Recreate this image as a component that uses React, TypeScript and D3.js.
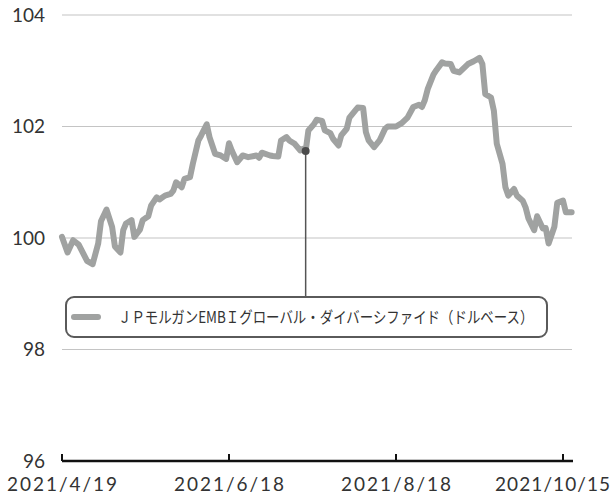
import React from "react";
import * as d3 from "d3";

const seriesName = "ＪＰモルガンEMBＩグローバル・ダイバーシファイド（ドルベース）";

const dates = [
  "2021-04-19", "2021-04-21", "2021-04-23", "2021-04-25", "2021-04-28", "2021-04-30", "2021-05-02", "2021-05-03",
  "2021-05-05", "2021-05-07", "2021-05-08", "2021-05-10", "2021-05-11", "2021-05-12", "2021-05-14", "2021-05-15",
  "2021-05-17", "2021-05-18", "2021-05-20", "2021-05-21", "2021-05-23", "2021-05-24", "2021-05-26", "2021-05-28",
  "2021-05-29", "2021-05-30", "2021-06-01", "2021-06-02", "2021-06-04", "2021-06-05", "2021-06-07", "2021-06-08",
  "2021-06-10", "2021-06-11", "2021-06-13", "2021-06-15", "2021-06-17", "2021-06-18",
  "2021-06-19", "2021-06-21", "2021-06-23", "2021-06-25", "2021-06-28", "2021-06-29", "2021-06-30", "2021-07-03",
  "2021-07-04", "2021-07-06", "2021-07-07", "2021-07-09", "2021-07-10", "2021-07-12", "2021-07-14", "2021-07-15",
  "2021-07-16", "2021-07-17", "2021-07-19", "2021-07-20", "2021-07-22", "2021-07-23", "2021-07-25", "2021-07-26",
  "2021-07-28", "2021-07-29", "2021-07-31", "2021-08-01", "2021-08-03", "2021-08-04", "2021-08-06", "2021-08-07",
  "2021-08-08", "2021-08-10", "2021-08-12", "2021-08-14", "2021-08-15", "2021-08-18",
  "2021-08-20", "2021-08-22", "2021-08-24", "2021-08-26", "2021-08-27", "2021-08-28", "2021-08-29", "2021-08-31",
  "2021-09-01", "2021-09-03", "2021-09-04", "2021-09-06", "2021-09-07", "2021-09-09", "2021-09-11", "2021-09-12",
  "2021-09-14", "2021-09-16", "2021-09-17", "2021-09-18", "2021-09-20", "2021-09-21", "2021-09-22", "2021-09-24",
  "2021-09-25", "2021-09-26", "2021-09-28", "2021-09-29", "2021-10-01", "2021-10-02", "2021-10-03", "2021-10-05",
  "2021-10-06", "2021-10-08", "2021-10-09", "2021-10-10", "2021-10-12", "2021-10-13", "2021-10-15", "2021-10-16",
  "2021-10-18",
];

const values = [
  100.02, 99.74, 99.96, 99.88, 99.59, 99.53, 99.9, 100.3,
  100.51, 100.2, 99.85, 99.74, 100.14, 100.26, 100.32, 100.02,
  100.15, 100.32, 100.39, 100.58, 100.73, 100.69, 100.76, 100.79,
  100.85, 101.0, 100.91, 101.06, 101.09, 101.33, 101.75, 101.84,
  102.04, 101.81, 101.51, 101.48, 101.42, 101.7,
  101.57, 101.36, 101.48, 101.45, 101.48, 101.44, 101.53, 101.48,
  101.47, 101.46, 101.75, 101.81, 101.75, 101.69, 101.57, 101.6,
  101.56, 101.93, 102.04, 102.12, 102.1, 101.93, 101.88, 101.78,
  101.66, 101.84, 101.96, 102.16, 102.28, 102.34, 102.33, 101.9,
  101.75, 101.63, 101.75, 101.96, 102.0, 102.0,
  102.06, 102.16, 102.35, 102.39, 102.35, 102.47, 102.67, 102.93,
  103.01, 103.15, 103.13, 103.12, 103.0, 102.97, 103.07, 103.12,
  103.17, 103.23, 103.12, 102.58, 102.52, 102.28, 101.69, 101.33,
  100.91, 100.76, 100.88, 100.76, 100.67, 100.55, 100.35, 100.14,
  100.39, 100.17, 100.18, 99.9, 100.2, 100.63, 100.67, 100.46,
  100.46,
];

// point that the legend callout hangs from
const markerDate = "2021-07-16";

const tickDates = ["2021-04-19", "2021-06-18", "2021-08-18", "2021-10-15"];
const tickLabels = ["2021/4/19", "2021/6/18", "2021/8/18", "2021/10/15"];
const yTicks = [96, 98, 100, 102, 104];

const W = 611;
const H = 497;
const margin = { top: 15, right: 39, bottom: 36, left: 62 };
const tickStep = 167;

const font = "'Noto Sans CJK JP', 'Noto Sans', sans-serif";
const numFont = "Lato, 'Noto Sans', sans-serif";

export default function App() {
  const parse = d3.timeParse("%Y-%m-%d");
  const data = dates.map((d, i) => ({ date: parse(d) as Date, value: values[i] }));

  const x = d3
    .scaleTime()
    .domain(tickDates.map((d) => parse(d) as Date))
    .range(tickDates.map((_, i) => margin.left + i * tickStep));

  const y = d3
    .scaleLinear()
    .domain([96, 104])
    .range([H - margin.bottom, margin.top]);

  const line = d3
    .line<{ date: Date; value: number }>()
    .x((d) => x(d.date))
    .y((d) => y(d.value));

  const marker = data[dates.indexOf(markerDate)];
  const mx = x(marker.date);
  const my = y(marker.value);

  const xEnd = W - margin.right;
  const axisY = y(96);

  const legend = { x: 66, y: 297, w: 481, h: 40 };

  return (
    <svg
      width={W}
      height={H}
      style={{ position: "absolute", left: 0, top: 0, background: "#fff" }}
      fontFamily={font}
    >
      {yTicks.map((t) => (
        <g key={t}>
          {t !== 96 && (
            <line x1={margin.left} x2={xEnd} y1={y(t)} y2={y(t)} stroke="#c4c4c4" strokeWidth={1.2} />
          )}
          <text
            x={45}
            y={y(t)}
            dy="0.36em"
            textAnchor="end"
            fontSize={19}
            fontFamily={numFont}
            fill="#333"
          >
            {t}
          </text>
        </g>
      ))}

      <path
        d={line(data) ?? ""}
        fill="none"
        stroke="#a0a2a1"
        strokeWidth={6}
        strokeLinejoin="round"
        strokeLinecap="round"
      />

      <line x1={mx} x2={mx} y1={my} y2={legend.y} stroke="#555" strokeWidth={1.5} />
      <circle cx={mx} cy={my} r={4} fill="#4a4a4a" />

      <rect
        x={legend.x}
        y={legend.y}
        width={legend.w}
        height={legend.h}
        rx={8}
        fill="#fff"
        stroke="#5a5a5a"
        strokeWidth={2}
      />
      <line
        x1={legend.x + 8}
        x2={legend.x + 32}
        y1={legend.y + legend.h / 2}
        y2={legend.y + legend.h / 2}
        stroke="#a0a2a1"
        strokeWidth={6}
        strokeLinecap="round"
      />
      <text
        transform={`translate(${legend.x + 52},${legend.y + legend.h / 2}) scale(0.84,1)`}
        dy="0.36em"
        fontSize={16}
        fill="#333"
      >
        {seriesName}
      </text>

      <line x1={margin.left} x2={xEnd + 1} y1={axisY} y2={axisY} stroke="#111" strokeWidth={2.5} />
      {tickDates.map((d, i) => {
        const tx = x(parse(d) as Date);
        const last = i === tickDates.length - 1;
        return (
          <g key={d}>
            <line x1={tx} x2={tx} y1={axisY} y2={axisY - 7} stroke="#111" strokeWidth={2} />
            <text
              x={last ? W - 1 : tx}
              y={491}
              textAnchor={last ? "end" : "middle"}
              fontSize={19}
              fontFamily={numFont}
              fill="#333"
              textLength={last ? 115 : 110}
              lengthAdjust="spacing"
            >
              {tickLabels[i]}
            </text>
          </g>
        );
      })}
    </svg>
  );
}
